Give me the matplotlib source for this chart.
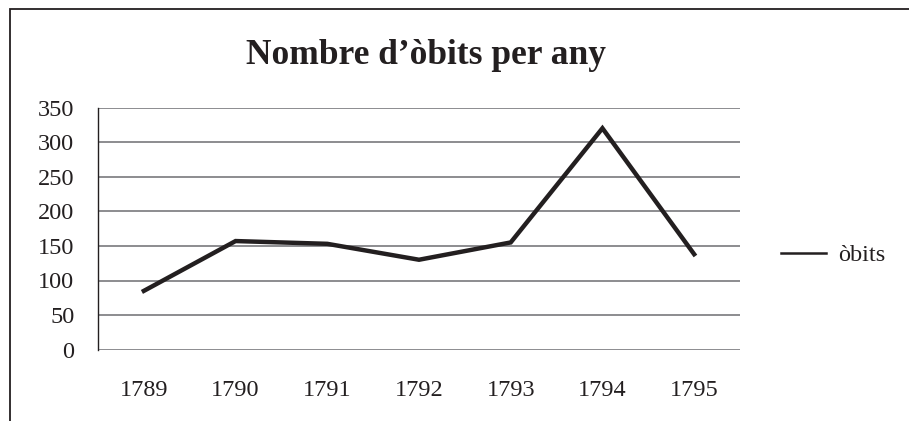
import matplotlib.pyplot as plt
from matplotlib.patches import Rectangle

# data
years = ["1789", "1790", "1791", "1792", "1793", "1794", "1795"]
obits = [85, 157, 153, 130, 155, 320, 138]
y_ticks = [0, 50, 100, 150, 200, 250, 300, 350]

plt.rcParams["font.family"] = ["Liberation Serif", "DejaVu Serif"]

W, H = 909, 421
fig = plt.figure(figsize=(W / 100, H / 100), dpi=100)

# outer frame (cut off at right and bottom)
fig.patches.append(Rectangle((10 / W, -0.1), 1.2, (H - 9.5) / H + 0.1,
                             transform=fig.transFigure, fill=False,
                             edgecolor="#231f20", linewidth=1.3))

ax = fig.add_axes([98 / W, (H - 349.7) / H, (740 - 98) / W, (349.7 - 107.5) / H])
x = range(len(years))
ax.plot(x, obits, color="#231f20", linewidth=3.2, solid_joinstyle="miter",
        label="òbits")

ax.set_xlim(-0.5, len(years) - 0.5)
ax.set_ylim(0, 350)
ax.set_yticks(y_ticks)
ax.set_xticks(list(x))
ax.set_xticklabels(years)
ax.yaxis.grid(True, color="#6d6e71", linewidth=1.1)
ax.set_axisbelow(True)
for s in ["top", "right", "bottom"]:
    ax.spines[s].set_visible(False)
ax.spines["left"].set_color("#231f20")
ax.spines["left"].set_linewidth(1.0)
ax.tick_params(axis="both", length=0, labelsize=17.5, colors="#231f20")
ax.tick_params(axis="y", pad=17)
ax.tick_params(axis="x", pad=22)

fig.text(426 / W, (H - 56) / H, "Nombre d’òbits per any", ha="center",
         va="center", fontsize=25.5, fontweight="bold", color="#231f20")

ax.legend(loc="center left", bbox_to_anchor=(759 / W, (H - 255) / H),
          bbox_transform=fig.transFigure, frameon=False, fontsize=17.5,
          handlelength=1.85, handletextpad=0.5, labelcolor="#231f20")
ax.get_legend().get_lines()[0].set_linewidth(1.8)

fig.savefig("out.png", dpi=100)
